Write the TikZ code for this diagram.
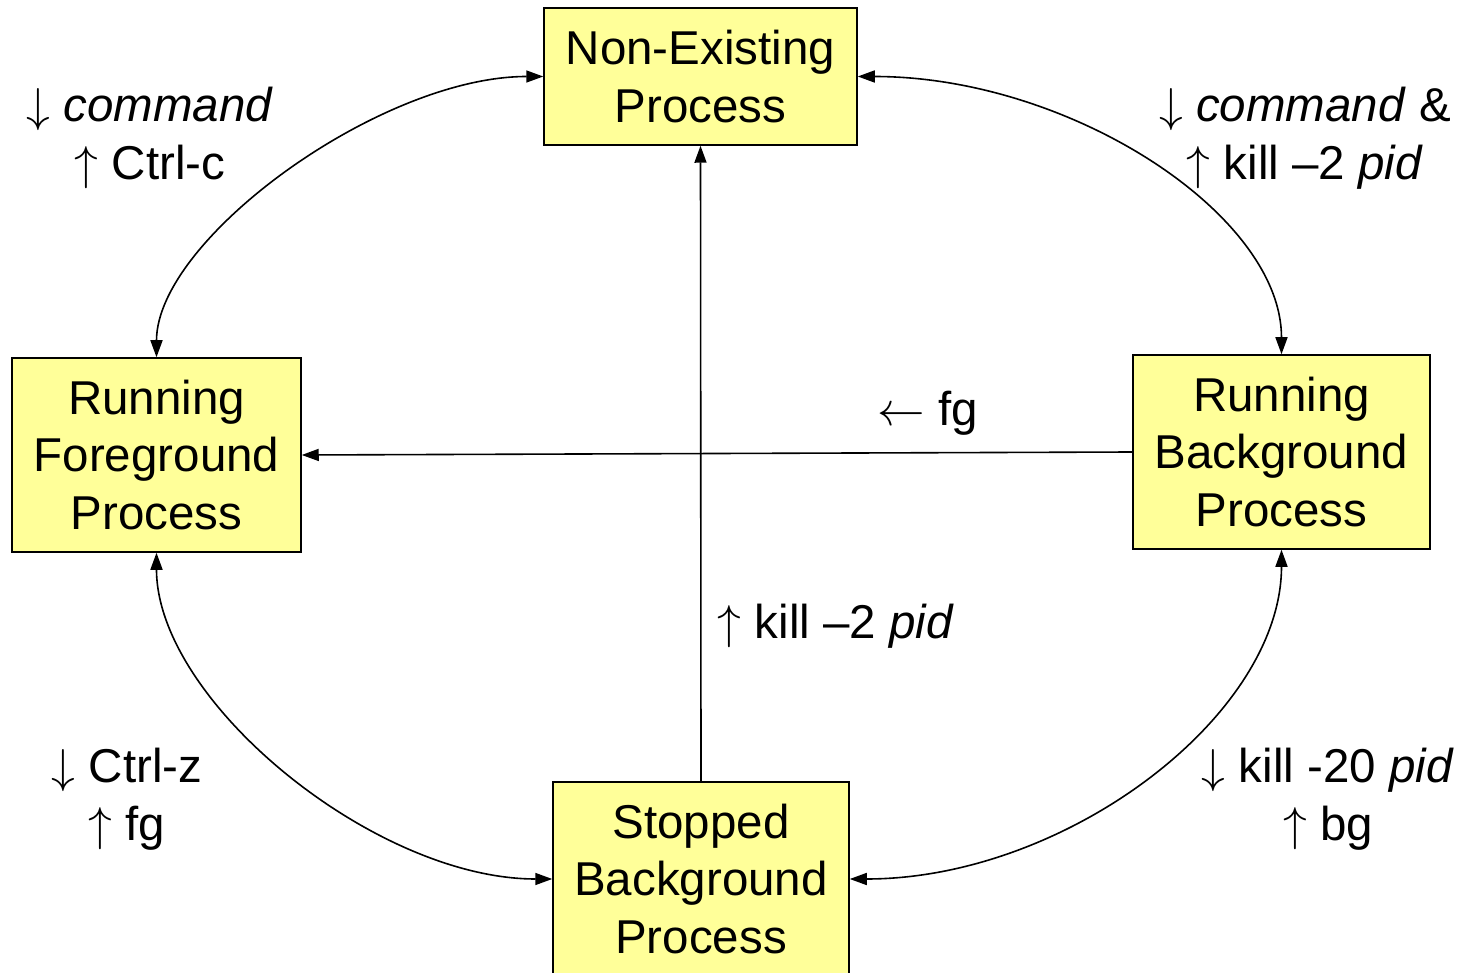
\RequirePackage{fix-cm}
\documentclass[tikz,border=0pt]{standalone}
\usepackage{fontspec}
\setmainfont{Liberation Sans}
\usetikzlibrary{arrows.meta}
\definecolor{procyellow}{HTML}{FFFF99}

\begin{document}
\begin{tikzpicture}[x=1pt,y=-1pt,
  proc/.style={draw, line width=1.5pt, fill=procyellow, align=center, inner sep=0pt},
  lbl/.style={align=center},
  >={Triangle[length=17pt,width=12pt]}, line width=1.6pt,
  font=\fontsize{47.5}{57.5}\selectfont]
\useasboundingbox (0,0) rectangle (1468,973);

% the four states
\node[proc, minimum width=313pt, minimum height=137pt] (ne) at (700.5,76.5) {Non-Existing\\Process};
\node[proc, minimum width=289pt, minimum height=194pt] (rf) at (156.5,455) {Running\\Foreground\\Process};
\node[proc, minimum width=297pt, minimum height=194pt] (rb) at (1281.5,452) {Running\\Background\\Process};
\node[proc, minimum width=296pt, minimum height=194pt] (sb) at (701,879) {Stopped\\Background\\Process};

% transitions
\draw[<->] (ne.west) .. controls +(-163,0) and +(0,-118) .. (rf.north);
\draw[<->] (ne.east) .. controls +(212,0) and +(0,-140) .. (rb.north);
\draw[<->] (rf.south) .. controls +(0,148) and +(-178,0) .. (sb.west);
\draw[<->] (rb.south) .. controls +(0,166) and +(216,0) .. (sb.east);
\draw[->] (sb.north) -- (ne.south);
\draw[->] (rb.west) -- (rf.east);

% labels
\node[lbl] (cmdfg) at (150,138) {$\downarrow$ \textit{command}\\$\uparrow$ Ctrl-c};
\node[lbl] (cmdbg) at (1305,138) {$\downarrow$ \textit{command} \&\\$\uparrow$ kill –2 \textit{pid}};
\node[anchor=base] (fgl) at (928,426) {$\leftarrow$ fg};
\node[anchor=base] (killv) at (836,638) {$\uparrow$ kill –2 \textit{pid}};
\node[lbl] (ctrlz) at (127,799) {$\downarrow$ Ctrl-z\\$\uparrow$ fg};
\node[lbl] (kill20) at (1328,799) {$\downarrow$ kill -20 \textit{pid}\\$\uparrow$ bg};
\end{tikzpicture}
\end{document}
